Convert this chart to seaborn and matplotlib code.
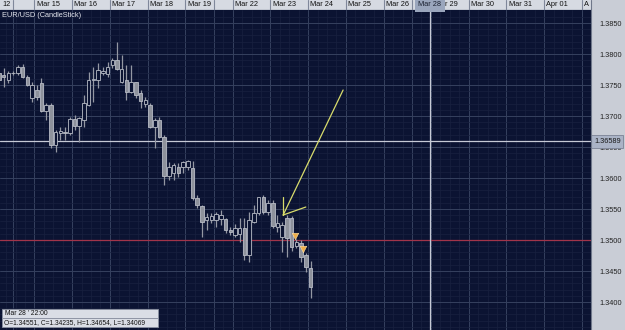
import numpy as np
import matplotlib
matplotlib.use("Agg")
import matplotlib.pyplot as plt
import matplotlib.transforms as mtransforms
from matplotlib.patches import Rectangle
from matplotlib.lines import Line2D
import seaborn as sns

# EUR/USD candles (3h)
opens = [1.3769, 1.3766, 1.3758, 1.3769, 1.3769, 1.3779, 1.3763, 1.3729, 1.3742, 1.3753,
         1.3708, 1.3718, 1.3653, 1.3673, 1.3675, 1.3673, 1.3695, 1.3684, 1.3694, 1.3718,
         1.3758, 1.3758, 1.3770, 1.3768, 1.3782, 1.3790, 1.3755, 1.3758, 1.3739, 1.3755,
         1.3737, 1.3719, 1.3718, 1.3682, 1.3694, 1.3666, 1.3603, 1.3608, 1.3618, 1.3618,
         1.3618, 1.3616, 1.3568, 1.3555, 1.3532, 1.3532, 1.3532, 1.3534, 1.3534, 1.3516,
         1.3508, 1.3510, 1.3519, 1.3476, 1.3529, 1.3544, 1.3569, 1.3545, 1.3560, 1.3521,
         1.3505, 1.3535, 1.3535, 1.3490, 1.3495, 1.3476, 1.34551]
highs = [1.3774, 1.3777, 1.3773, 1.3773, 1.3782, 1.3784, 1.3766, 1.3755, 1.3750, 1.3761,
         1.3721, 1.3721, 1.3677, 1.3682, 1.3683, 1.3698, 1.3702, 1.3698, 1.3734, 1.3771,
         1.3779, 1.3785, 1.3779, 1.3787, 1.3794, 1.3819, 1.3798, 1.3782, 1.3782, 1.3755,
         1.3742, 1.3731, 1.3721, 1.3697, 1.3698, 1.3669, 1.3626, 1.3624, 1.3624, 1.3627,
         1.3629, 1.3627, 1.3573, 1.3556, 1.3544, 1.3544, 1.3545, 1.3549, 1.3535, 1.3521,
         1.3526, 1.3535, 1.3535, 1.3545, 1.3556, 1.3570, 1.3573, 1.3565, 1.3565, 1.3540,
         1.3529, 1.3540, 1.3539, 1.3501, 1.3500, 1.3479, 1.34654]
lows = [1.3750, 1.3747, 1.3753, 1.3766, 1.3766, 1.3761, 1.3748, 1.3723, 1.3726, 1.3706,
        1.3694, 1.3648, 1.3642, 1.3661, 1.3661, 1.3669, 1.3677, 1.3658, 1.3682, 1.3716,
        1.3723, 1.3745, 1.3766, 1.3763, 1.3777, 1.3774, 1.3753, 1.3726, 1.3737, 1.3729,
        1.3713, 1.3715, 1.3681, 1.3648, 1.3665, 1.3589, 1.3597, 1.3597, 1.3602, 1.3608,
        1.3613, 1.3565, 1.3552, 1.3505, 1.3516, 1.3527, 1.3521, 1.3525, 1.3511, 1.3508,
        1.3505, 1.3497, 1.3468, 1.3465, 1.3527, 1.3540, 1.3542, 1.3540, 1.3519, 1.3513,
        1.3480, 1.3473, 1.3482, 1.3487, 1.3465, 1.3448, 1.34069]
closes = [1.3758, 1.3763, 1.3769, 1.3770, 1.3779, 1.3763, 1.3750, 1.3750, 1.3731, 1.3708,
          1.3718, 1.3653, 1.3674, 1.3676, 1.3673, 1.3695, 1.3684, 1.3697, 1.3721, 1.3758,
          1.3759, 1.3774, 1.3773, 1.3779, 1.3790, 1.3776, 1.3776, 1.3739, 1.3755, 1.3734,
          1.3724, 1.3726, 1.3682, 1.3694, 1.3666, 1.3603, 1.3618, 1.3621, 1.3608, 1.3626,
          1.3627, 1.3568, 1.3556, 1.3529, 1.3537, 1.3539, 1.3542, 1.3541, 1.3516, 1.3513,
          1.3519, 1.3519, 1.3476, 1.3532, 1.3544, 1.3569, 1.3545, 1.3560, 1.3523, 1.3527,
          1.3524, 1.3503, 1.3488, 1.3497, 1.3473, 1.3456, 1.34235]

# date header: cell start (candle index) and label
day_starts = [-6.0, 3.0, 7.5, 15.5, 23.5, 31.5, 39.5, 45.5, 49.5, 57.5, 65.5, 73.5,
              81.5, 87.5, 91.5, 99.5, 107.5, 115.5, 123.5]
day_labels = ["12", "", "Mar 15", "Mar 16", "Mar 17", "Mar 18", "Mar 19", "", "Mar 22",
              "Mar 23", "Mar 24", "Mar 25", "Mar 26", "", "r 29", "Mar 30", "Mar 31",
              "Apr 01", "A"]
price_ticks = [1.3400, 1.3450, 1.3500, 1.3550, 1.3600, 1.3650, 1.3700, 1.3750, 1.3800, 1.3850]

# sell signals
signal_x = [62.7, 64.4]
signal_y = [1.35065, 1.3485]
cursor_x = 91.3
cursor_price = 1.36589
level_price = 1.3500

sns.set_theme(style="dark")
plt.rcParams["font.family"] = ["Liberation Sans", "DejaVu Sans"]

W, H = 625, 330
bg = "#0b1332"
fs = 5.3

fig = plt.figure(figsize=(W / 100, H / 100), dpi=100)
fig.patch.set_facecolor("#c9cdd6")
ax = fig.add_axes([0, 0, 591 / W, 320 / H])
ax.set_facecolor(bg)

o = np.array(opens)
h = np.array(highs)
l = np.array(lows)
c = np.array(closes)
x = np.arange(len(o))
up = c >= o

ax.vlines(x, l, h, color="#9498a3", lw=0.9, zorder=3)
ax.bar(x[~up], (o - c)[~up], bottom=c[~up], width=0.75, color="#8e929c",
       edgecolor="#b8bcc6", linewidth=0.6, zorder=4)
ax.bar(x[up], np.maximum((c - o)[up], 0.00004), bottom=o[up], width=0.75, color=bg,
       edgecolor="#b8bcc6", linewidth=0.6, zorder=4)

ax.set_xlim(0.212, 125.42)
ax.set_ylim(1.335484, 1.387097)

# grid
ax.set_xticks(day_starts[1:])
ax.set_xticks(np.arange(1.5, 125, 2), minor=True)
ax.set_yticks(price_ticks)
ax.set_yticks(np.arange(1.336, 1.387, 0.001), minor=True)
ax.grid(which="major", color="#36415f", lw=0.7)
ax.grid(which="minor", color="#18213f", lw=0.5)
ax.set_axisbelow(True)
ax.tick_params(axis="x", which="both", length=0, labelbottom=False)
ax.yaxis.tick_right()
ax.tick_params(axis="y", which="both", length=0)
ax.tick_params(axis="y", which="major", pad=6, labelsize=fs, labelcolor="#222222")
ax.set_yticklabels([f"{p:.4f}" for p in price_ticks])
for s in ax.spines.values():
    s.set_visible(False)

ax.axhline(level_price, color="#a2344a", lw=0.9, zorder=2)
ax.axhline(cursor_price, color="#c6cad6", lw=0.9, zorder=2)
ax.axvline(cursor_x, color="#c6cad6", lw=0.9, zorder=2)

# arrow
arrow_col = "#d8dc6c"
ax.plot([72.9, 60.2], [1.37419, 1.35403], color=arrow_col, lw=0.9, zorder=6)
ax.plot([60.2, 60.2], [1.35403, 1.35694], color=arrow_col, lw=0.9, zorder=6)
ax.plot([60.2, 65.0], [1.35403, 1.35532], color=arrow_col, lw=0.9, zorder=6)

sns.scatterplot(x=signal_x, y=signal_y, marker="v", s=22, color="#f0ae48",
                edgecolor="#ffe2a8", linewidth=0.4, ax=ax, zorder=7, legend=False)

ax.text(0.004, 0.984, "EUR/USD (CandleStick)", transform=ax.transAxes, va="center",
        fontsize=fs, color="#e4e6ee")

trans = mtransforms.blended_transform_factory(ax.transAxes, ax.transData)
ax.text(1.0 + 3 / 591, cursor_price, "1.36589", transform=trans, ha="left", va="center",
        fontsize=fs, color="#1a1a1a", clip_on=False, zorder=8,
        bbox=dict(boxstyle="square,pad=0.35", fc="#aab3c6", ec="#7b8396", lw=0.6))

# date header
hax = fig.add_axes([0, 320 / H, 591 / W, 10 / H])
hax.set_facecolor("#d6dae2")
hax.set_xlim(ax.get_xlim())
hax.set_ylim(0, 1)
hax.set_xticks([])
hax.set_yticks([])
for s in hax.spines.values():
    s.set_visible(False)
hax.axhline(0, color="#6f778a", lw=1.0)
box_right = cursor_x + 2.75
for start, lab in zip(day_starts, day_labels):
    if start > 0:
        hax.axvline(start, color="#7f879a", lw=0.8)
    tx = max(start, 0.212) + 0.45
    if lab == "r 29":
        tx = box_right + 0.35
    hax.text(tx, 0.5, lab, va="center", ha="left", fontsize=fs, color="#111111")
hax.text(cursor_x, 0.5, "Mar 28", ha="center", va="center", fontsize=fs, color="#1a2030",
         zorder=5, bbox=dict(boxstyle="square,pad=0.45", fc="#9aa6bd", ec="none"))

# price panel border
fig.add_artist(Line2D([591 / W, 591 / W], [0, 1], transform=fig.transFigure,
                      color="#6f778a", lw=0.8))

# info box
for yb in (12, 3):
    fig.add_artist(Rectangle((2 / W, yb / H), 156 / W, 9 / H, transform=fig.transFigure,
                             fc="#dadde5", ec="#8a90a0", lw=0.6, zorder=5))
fig.text(5 / W, 16.5 / H, "Mar 28 ' 22:00", fontsize=4.9, va="center", color="#111111", zorder=6)
fig.text(4 / W, 7.5 / H, "O=1.34551, C=1.34235, H=1.34654, L=1.34069", fontsize=4.8,
         va="center", color="#111111", zorder=6)

fig.savefig("out.png", dpi=100, facecolor=fig.get_facecolor())
